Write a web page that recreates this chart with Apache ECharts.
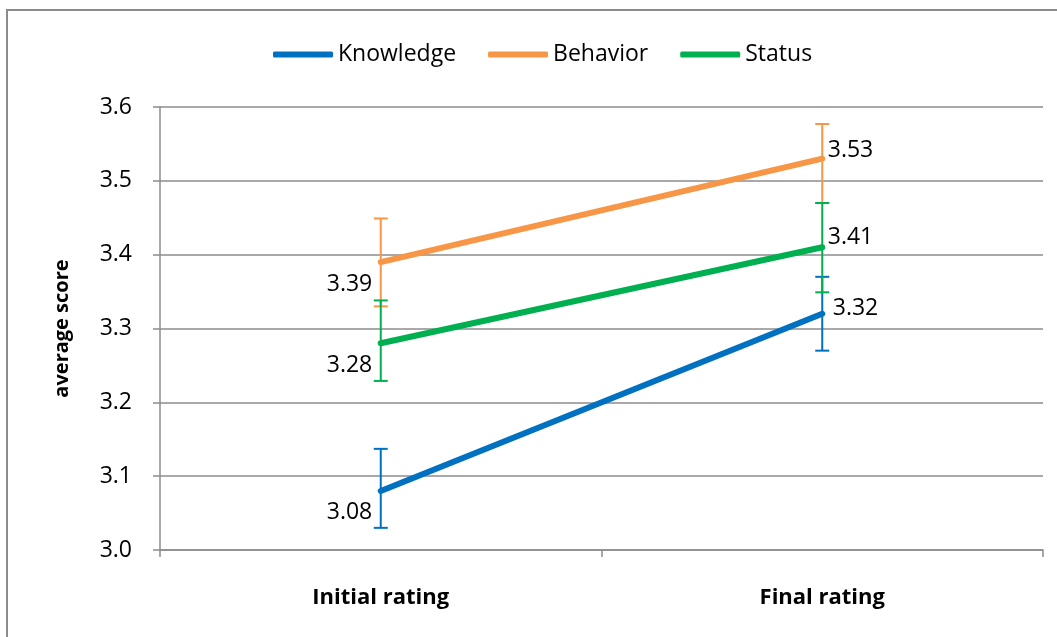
<!DOCTYPE html>
<html>
<head>
<meta charset="utf-8">
<script src="https://cdn.jsdelivr.net/npm/echarts@6/dist/echarts.min.js"></script>
<style>
  html, body { margin: 0; padding: 0; background: #fff; }
  #chart { width: 1057px; height: 637px; }
</style>
</head>
<body>
<div id="chart"></div>
<script>
const categories = ["Initial rating", "Final rating"];
const seriesNames = ["Knowledge", "Behavior", "Status"];
const knowledge = [3.08, 3.32];
const behavior = [3.39, 3.53];
const status = [3.28, 3.41];
// error bar ends (low / high)
const knowledgeLow = [3.03, 3.27];
const knowledgeHigh = [3.137, 3.37];
const behaviorLow = [3.33, 3.47];
const behaviorHigh = [3.449, 3.577];
const statusLow = [3.229, 3.349];
const statusHigh = [3.338, 3.47];
const yTicks = [3.0, 3.1, 3.2, 3.3, 3.4, 3.5, 3.6];

const colors = ["#0070C0", "#F79646", "#00B050"];
const FONT = "Open Sans";

const values = [knowledge, behavior, status];
const lows = [knowledgeLow, behaviorLow, statusLow];
const highs = [knowledgeHigh, behaviorHigh, statusHigh];

// label placement: left/below on first point, right/above on last
const labelOffsets = [
  [[0, 22], [2, -5]],
  [[0, 22], [-3, -8]],
  [[0, 22], [-3, -10]]
];

function lineSeries(i) {
  return {
    name: seriesNames[i],
    type: "line",
    z: 3,
    symbol: "circle",
    symbolSize: 1,
    color: colors[i],
    itemStyle: { color: colors[i] },
    lineStyle: { width: 6, color: colors[i], cap: "round" },
    data: values[i].map((v, j) => ({
      value: v,
      label: {
        show: true,
        position: j === 0 ? "left" : "right",
        distance: 8,
        offset: labelOffsets[i][j],
        color: "#000",
        fontFamily: FONT,
        fontSize: 23,
        formatter: (p) => p.value.toFixed(2)
      }
    }))
  };
}

function errorSeries(i) {
  return {
    name: seriesNames[i] + " error",
    type: "custom",
    z: 2,
    silent: true,
    color: colors[i],
    data: lows[i].map((lo, j) => [j, lo, highs[i][j]]),
    renderItem: function (params, api) {
      const x = api.value(0);
      const top = api.coord([x, api.value(2)]);
      const bot = api.coord([x, api.value(1)]);
      const half = 7;
      const style = { stroke: colors[i], lineWidth: 2 };
      return {
        type: "group",
        children: [
          { type: "line", shape: { x1: top[0], y1: top[1], x2: bot[0], y2: bot[1] }, style: style },
          { type: "line", shape: { x1: top[0] - half, y1: top[1], x2: top[0] + half, y2: top[1] }, style: style },
          { type: "line", shape: { x1: bot[0] - half, y1: bot[1], x2: bot[0] + half, y2: bot[1] }, style: style }
        ]
      };
    }
  };
}

const chart = echarts.init(document.getElementById("chart"));
const option = {
  animation: false,
  backgroundColor: "#fff",
  color: colors,
  graphic: [
    {
      type: "rect",
      shape: { x: 7, y: 10, width: 1100, height: 700 },
      style: { fill: "none", stroke: "#8c8c8c", lineWidth: 2 },
      silent: true
    }
  ],
  legend: {
    top: 38,
    left: 268,
    data: seriesNames,
    icon: "roundRect",
    itemWidth: 60,
    itemHeight: 6,
    itemGap: 32,
    textStyle: { fontFamily: FONT, fontSize: 23, color: "#000" }
  },
  grid: { left: 160, right: 14, top: 107, bottom: 87, containLabel: false },
  xAxis: {
    type: "category",
    data: categories,
    boundaryGap: true,
    axisLine: { lineStyle: { color: "#8c8c8c", width: 1.5 } },
    axisTick: { show: true, length: 7, lineStyle: { color: "#8c8c8c", width: 1.5 } },
    axisLabel: { margin: 37, color: "#000", fontFamily: FONT, fontWeight: "bold", fontSize: 22 }
  },
  yAxis: {
    type: "value",
    min: yTicks[0],
    max: yTicks[yTicks.length - 1],
    interval: 0.1,
    name: "average score",
    nameLocation: "middle",
    nameGap: 88,
    nameTextStyle: { fontFamily: FONT, fontWeight: "bold", fontSize: 20, color: "#000" },
    axisLine: { show: true, lineStyle: { color: "#8c8c8c", width: 1.5 } },
    axisTick: { show: true, length: 7, lineStyle: { color: "#8c8c8c", width: 1.5 } },
    splitLine: { lineStyle: { color: "#8c8c8c", width: 1.5 } },
    axisLabel: {
      margin: 28,
      color: "#000",
      fontFamily: FONT,
      fontSize: 23,
      formatter: (v) => v.toFixed(1)
    }
  },
  series: [0, 1, 2].map(errorSeries).concat([0, 1, 2].map(lineSeries))
};
chart.setOption(option);
</script>
</body>
</html>
